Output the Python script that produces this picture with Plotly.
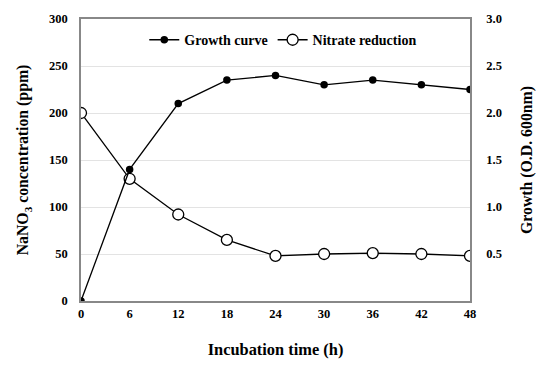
import plotly.graph_objects as go

hours = [0, 6, 12, 18, 24, 30, 36, 42, 48]
growth_od = [0.0, 1.4, 2.1, 2.35, 2.4, 2.3, 2.35, 2.3, 2.25]
nitrate_ppm = [200, 130, 92, 65, 48, 50, 51, 50, 48]

left_ticks = [0, 50, 100, 150, 200, 250, 300]
right_ticks = [0.5, 1.0, 1.5, 2.0, 2.5, 3.0]
right_labels = ["0.5", "1.0", "1.5", "2.0", "2.5", "3.0"]

font_family = "Liberation Serif, Times New Roman, serif"

fig = go.Figure()
fig.add_trace(go.Scatter(
    x=hours, y=growth_od, name="<b>Growth curve</b>", yaxis="y2",
    mode="lines+markers",
    line=dict(color="black", width=1.3),
    marker=dict(symbol="circle", size=7.5, color="black"),
))
fig.add_trace(go.Scatter(
    x=hours, y=nitrate_ppm, name="<b>Nitrate reduction</b>", yaxis="y",
    mode="lines+markers",
    line=dict(color="black", width=1.3),
    marker=dict(symbol="circle", size=11, color="white", line=dict(color="black", width=1.3)),
))

fig.update_layout(
    width=550, height=369,
    margin=dict(l=81, r=80, t=17, b=68),
    paper_bgcolor="white", plot_bgcolor="white",
    font=dict(family=font_family, color="black", size=12),
    showlegend=True,
    legend=dict(orientation="h", x=0.52, xanchor="center", y=0.925, yanchor="middle",
                bgcolor="rgba(0,0,0,0)", font=dict(size=14, family=font_family),
                itemwidth=30, tracegroupgap=0),
    xaxis=dict(
        range=[0, 48], tickvals=hours, ticktext=[f"<b>{h}</b>" for h in hours],
        showgrid=False, zeroline=False,
        showline=True, linecolor="#888888", linewidth=1.5, mirror=True,
        ticks="", tickfont=dict(size=12.5), ticklabelstandoff=0,
        title=dict(text="<b>Incubation time (h)</b>", font=dict(size=16.4), standoff=24),
    ),
    yaxis=dict(
        range=[0, 300], tickvals=left_ticks, ticktext=[f"<b>{t}</b>" for t in left_ticks],
        showgrid=True, gridcolor="#e3e3e3", gridwidth=1, zeroline=False,
        showline=True, linecolor="#888888", linewidth=1.5,
        ticks="", tickfont=dict(size=12.5), ticklabelstandoff=9,
        title=dict(text="<b>NaNO<sub>3</sub> concentration (ppm)</b>", font=dict(size=15.8), standoff=16),
    ),
    yaxis2=dict(
        range=[0, 3.0], overlaying="y", side="right",
        tickvals=right_ticks, ticktext=[f"<b>{t}</b>" for t in right_labels],
        showgrid=False, zeroline=False,
        showline=True, linecolor="#888888", linewidth=1.5,
        ticks="", tickfont=dict(size=12.5), ticklabelstandoff=12,
        title=dict(text="<b>Growth (O.D. 600nm)</b>", font=dict(size=15.8), standoff=20),
    ),
)

fig.write_html("out.html",
               config={"displayModeBar": False},
               post_script="document.body.style.margin='0';document.body.style.padding='0';")
